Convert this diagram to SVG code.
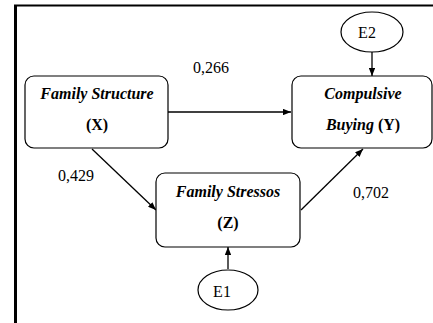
<svg xmlns="http://www.w3.org/2000/svg" width="433" height="323" viewBox="0 0 433 323">
<style>
.box{fill:#fff;stroke:#000;stroke-width:1.2}
.ell{fill:#fff;stroke:#000;stroke-width:1.2}
.t{font-family:'Liberation Serif','DejaVu Serif',serif;font-size:16px;fill:#000}
.bi{font-weight:bold;font-style:italic}
.b{font-weight:bold}
.c{stroke:#000;stroke-width:1.3;fill:none;marker-end:url(#ah)}
</style>
<defs>
<marker id="ah" viewBox="0 0 10 8" refX="10" refY="4" markerWidth="8" markerHeight="6.5" markerUnits="userSpaceOnUse" orient="auto">
<path d="M0,0 L10,4 L0,8 z" fill="#000"/>
</marker>
</defs>
<rect width="433" height="323" fill="#fff"/>
<g id="frame">
<line x1="14" y1="5.5" x2="433" y2="5.5" stroke="#000" stroke-width="2"/>
<line x1="15.5" y1="5" x2="15.5" y2="323" stroke="#000" stroke-width="3"/>
</g>
<g id="connectors">
<line class="c" x1="168" y1="112" x2="291" y2="112"/>
<line class="c" x1="92" y1="149" x2="156" y2="210"/>
<line class="c" x1="301" y1="210" x2="363" y2="149"/>
<line class="c" x1="372" y1="52" x2="372" y2="76"/>
<line class="c" x1="228" y1="269" x2="228" y2="247"/>
</g>
<g id="nodeX">
<rect class="box" x="25" y="76" width="143" height="72" rx="9"/>
<text class="t bi" font-family="Liberation Serif, DejaVu Serif, serif" x="97" y="99" text-anchor="middle">Family Structure</text>
<text class="t b" font-family="Liberation Serif, DejaVu Serif, serif" x="97" y="130" text-anchor="middle">(X)</text>
</g>
<g id="nodeY">
<rect class="box" x="292" y="76" width="140" height="72" rx="9"/>
<text class="t bi" font-family="Liberation Serif, DejaVu Serif, serif" x="363" y="99" text-anchor="middle">Compulsive</text>
<text class="t" font-family="Liberation Serif, DejaVu Serif, serif" x="363" y="130" text-anchor="middle"><tspan class="bi">Buying</tspan><tspan class="b"> (Y)</tspan></text>
</g>
<g id="nodeZ">
<rect class="box" x="156" y="173" width="144" height="74" rx="9"/>
<text class="t bi" font-family="Liberation Serif, DejaVu Serif, serif" x="228" y="197" text-anchor="middle">Family Stressos</text>
<text class="t b" font-family="Liberation Serif, DejaVu Serif, serif" x="228" y="228" text-anchor="middle">(Z)</text>
</g>
<g id="nodeE2">
<ellipse class="ell" cx="372" cy="32" rx="31" ry="20"/>
<text class="t" font-family="Liberation Serif, DejaVu Serif, serif" x="367" y="38" text-anchor="middle">E2</text>
</g>
<g id="nodeE1">
<ellipse class="ell" cx="228" cy="290" rx="30" ry="20"/>
<text class="t" font-family="Liberation Serif, DejaVu Serif, serif" x="222" y="297" text-anchor="middle">E1</text>
</g>
<g id="labels">
<text class="t" font-family="Liberation Serif, DejaVu Serif, serif" x="211" y="73" text-anchor="middle">0,266</text>
<text class="t" font-family="Liberation Serif, DejaVu Serif, serif" x="76" y="181" text-anchor="middle">0,429</text>
<text class="t" font-family="Liberation Serif, DejaVu Serif, serif" x="371" y="198" text-anchor="middle">0,702</text>
</g>
</svg>
